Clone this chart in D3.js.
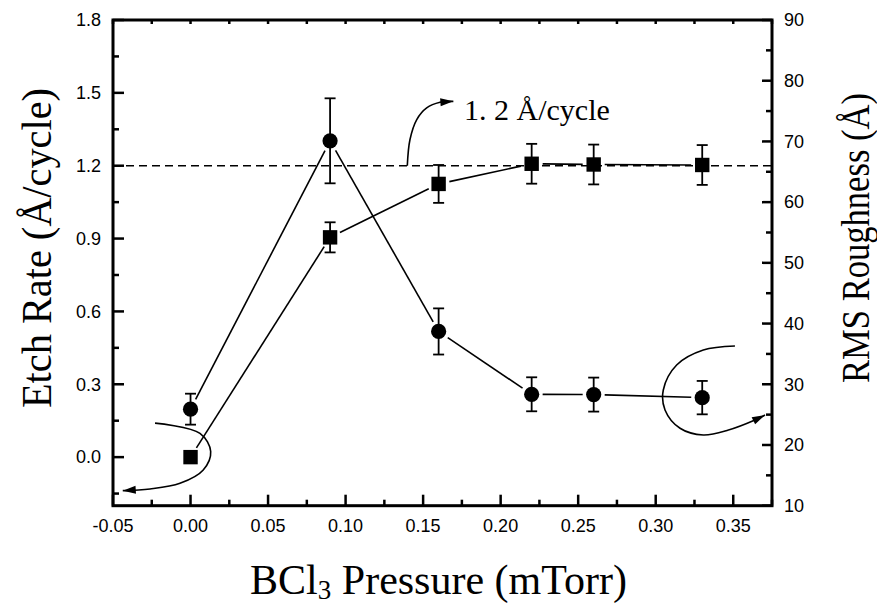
<!DOCTYPE html>
<html>
<head>
<meta charset="utf-8">
<script src="https://cdn.jsdelivr.net/npm/d3@7"></script>
<style>
  html, body { margin: 0; padding: 0; background: #fff; }
  svg { display: block; }
</style>
</head>
<body>
<svg id="chart" width="877" height="608"></svg>
<script>
// BCl3 pressure (mTorr)
const pressure = [0.00, 0.09, 0.16, 0.22, 0.26, 0.33];
// Etch rate (Å/cycle), left axis, square symbols
const etchRate = [0.000, 0.905, 1.125, 1.208, 1.205, 1.203];
const etchErr  = [0.000, 0.062, 0.078, 0.082, 0.082, 0.082];
// RMS roughness (Å), right axis, circle symbols
const roughness = [25.9, 70.1, 38.7, 28.35, 28.3, 27.8];
const roughErr  = [2.55, 7.0, 3.8, 2.8, 2.8, 2.75];

// Axis ticks
const xMajor = [-0.05, 0.00, 0.05, 0.10, 0.15, 0.20, 0.25, 0.30, 0.35];
const xMinor = [-0.025, 0.025, 0.075, 0.125, 0.175, 0.225, 0.275, 0.325, 0.375];
const yLeftMajor = [0.0, 0.3, 0.6, 0.9, 1.2, 1.5, 1.8];
const yLeftMinor = [-0.15, 0.15, 0.45, 0.75, 1.05, 1.35, 1.65];
const yRightMajor = [10, 20, 30, 40, 50, 60, 70, 80, 90];
const yRightMinor = [15, 25, 35, 45, 55, 65, 75, 85];

// Reference level
const refRate = 1.2;
const refLabel = "1. 2 Å/cycle";

// Annotation curves (data coordinates)
const refArrow = [[0.1398, 1.20], [0.1415, 1.307], [0.1459, 1.390], [0.1523, 1.438], [0.1609, 1.461], [0.1695, 1.465]];
const leftArrow = [[-0.0229, 0.140], [0.0061, 0.098], [0.0130, 0.023], [0.0082, -0.053], [-0.0068, -0.108], [-0.0261, -0.131], [-0.0437, -0.138]];
const rightArrow = [[0.3511, 36.31], [0.3307, 35.65], [0.3135, 33.18], [0.3049, 29.06], [0.3060, 25.77], [0.3157, 22.75], [0.3307, 21.65], [0.3469, 22.47], [0.3640, 24.12], [0.3705, 24.94]];

const svg = d3.select("#chart");
const L = 113, R = 772, T = 20, B = 505.7;

const x = d3.scaleLinear().domain([-0.05, 0.375]).range([L, R]);
const yL = d3.scaleLinear().domain([-0.2, 1.8]).range([B, T]);
const yR = d3.scaleLinear().domain([10, 90]).range([B, T]);

const sansFont = "'Liberation Sans', Arial, sans-serif";
const serifFont = "'Liberation Serif', 'Times New Roman', serif";

// Dashed reference line
svg.append("line")
  .attr("x1", L).attr("x2", R)
  .attr("y1", yL(refRate)).attr("y2", yL(refRate))
  .attr("stroke", "#000").attr("stroke-width", 1.6)
  .attr("stroke-dasharray", "8,5");

// Connecting lines with gaps around the symbols
function gappedSegments(pts, gap) {
  const segs = [];
  for (let i = 0; i < pts.length - 1; i++) {
    const [x1, y1] = pts[i], [x2, y2] = pts[i + 1];
    const dx = x2 - x1, dy = y2 - y1, len = Math.hypot(dx, dy);
    if (len <= 2 * gap) continue;
    const ux = dx / len, uy = dy / len;
    segs.push([x1 + ux * gap, y1 + uy * gap, x2 - ux * gap, y2 - uy * gap]);
  }
  return segs;
}

const etchPts = pressure.map((p, i) => [x(p), yL(etchRate[i])]);
const roughPts = pressure.map((p, i) => [x(p), yR(roughness[i])]);

[etchPts, roughPts].forEach(pts => {
  svg.append("g").selectAll("line")
    .data(gappedSegments(pts, 11))
    .join("line")
    .attr("x1", d => d[0]).attr("y1", d => d[1])
    .attr("x2", d => d[2]).attr("y2", d => d[3])
    .attr("stroke", "#000").attr("stroke-width", 1.6);
});

// Error bars
function errorBars(vals, errs, scale) {
  const g = svg.append("g").attr("stroke", "#000").attr("stroke-width", 1.8);
  pressure.forEach((p, i) => {
    if (!errs[i]) return;
    const cx = x(p), top = scale(vals[i] + errs[i]), bot = scale(vals[i] - errs[i]);
    g.append("line").attr("x1", cx).attr("x2", cx).attr("y1", top).attr("y2", bot);
    g.append("line").attr("x1", cx - 5.5).attr("x2", cx + 5.5).attr("y1", top).attr("y2", top);
    g.append("line").attr("x1", cx - 5.5).attr("x2", cx + 5.5).attr("y1", bot).attr("y2", bot);
  });
}
errorBars(etchRate, etchErr, yL);
errorBars(roughness, roughErr, yR);

// Symbols
svg.append("g").selectAll("rect")
  .data(pressure)
  .join("rect")
  .attr("x", (d) => x(d) - 7.2)
  .attr("y", (d, i) => yL(etchRate[i]) - 7.2)
  .attr("width", 14.4).attr("height", 14.4)
  .attr("fill", "#000");

svg.append("g").selectAll("circle")
  .data(pressure)
  .join("circle")
  .attr("cx", d => x(d))
  .attr("cy", (d, i) => yR(roughness[i]))
  .attr("r", 7.6)
  .attr("fill", "#000");

// Annotation arrows
function arrowCurve(pts, sx, sy) {
  const px = pts.map(p => [sx(p[0]), sy(p[1])]);
  svg.append("path")
    .attr("d", d3.line().curve(d3.curveCatmullRom)(px))
    .attr("fill", "none").attr("stroke", "#000").attr("stroke-width", 1.6);
  const [ax, ay] = px[px.length - 1], [bx, by] = px[px.length - 2];
  const ang = Math.atan2(ay - by, ax - bx);
  const len = 13, hw = 4;
  const bxp = ax - len * Math.cos(ang), byp = ay - len * Math.sin(ang);
  const nx = -Math.sin(ang) * hw, ny = Math.cos(ang) * hw;
  svg.append("path")
    .attr("d", `M${ax},${ay}L${bxp + nx},${byp + ny}L${bxp - nx},${byp - ny}Z`)
    .attr("fill", "#000");
}
arrowCurve(refArrow, x, yL);
arrowCurve(leftArrow, x, yL);
arrowCurve(rightArrow, x, yR);

svg.append("text")
  .attr("x", x(0.1764)).attr("y", yL(1.387))
  .attr("font-family", serifFont).attr("font-size", 30)
  .text(refLabel);

// Frame
svg.append("rect")
  .attr("x", L).attr("y", T).attr("width", R - L).attr("height", B - T)
  .attr("fill", "none").attr("stroke", "#000").attr("stroke-width", 3);

// Ticks (pointing inward)
const tg = svg.append("g").attr("stroke", "#000").attr("stroke-width", 2.5);
xMajor.forEach(v => tg.append("line").attr("x1", x(v)).attr("x2", x(v)).attr("y1", B).attr("y2", B - 11));
xMinor.forEach(v => tg.append("line").attr("x1", x(v)).attr("x2", x(v)).attr("y1", B).attr("y2", B - 6));
xMajor.concat(xMinor).forEach(v => tg.append("line").attr("x1", x(v)).attr("x2", x(v)).attr("y1", T).attr("y2", T + 4));
yLeftMajor.forEach(v => tg.append("line").attr("x1", L).attr("x2", L + 11).attr("y1", yL(v)).attr("y2", yL(v)));
yLeftMinor.forEach(v => tg.append("line").attr("x1", L).attr("x2", L + 6).attr("y1", yL(v)).attr("y2", yL(v)));
yRightMajor.forEach(v => tg.append("line").attr("x1", R).attr("x2", R - 10).attr("y1", yR(v)).attr("y2", yR(v)));
yRightMinor.forEach(v => tg.append("line").attr("x1", R).attr("x2", R - 6).attr("y1", yR(v)).attr("y2", yR(v)));

// Tick labels
const fx = d3.format(".2f"), fy = d3.format(".1f");
svg.append("g").selectAll("text").data(xMajor).join("text")
  .attr("x", d => x(d)).attr("y", 532)
  .attr("text-anchor", "middle")
  .attr("font-family", sansFont).attr("font-size", 18)
  .text(d => fx(d).replace("−", "-"));
svg.append("g").selectAll("text").data(yLeftMajor).join("text")
  .attr("x", 101).attr("y", d => yL(d)).attr("dy", "0.35em")
  .attr("text-anchor", "end")
  .attr("font-family", sansFont).attr("font-size", 18)
  .text(d => fy(d));
svg.append("g").selectAll("text").data(yRightMajor).join("text")
  .attr("x", 784).attr("y", d => yR(d)).attr("dy", "0.35em")
  .attr("text-anchor", "start")
  .attr("font-family", sansFont).attr("font-size", 18)
  .text(d => d);

// Axis titles
const xt = svg.append("text")
  .attr("x", 438.5).attr("y", 594)
  .attr("text-anchor", "middle")
  .attr("font-family", serifFont).attr("font-size", 42);
xt.append("tspan").text("BCl");
xt.append("tspan").attr("font-size", 27).attr("dy", 5).text("3");
xt.append("tspan").attr("dy", -5).text(" Pressure (mTorr)");

svg.append("text")
  .attr("transform", "translate(51,248) rotate(-90)")
  .attr("text-anchor", "middle")
  .attr("font-family", serifFont).attr("font-size", 42)
  .attr("textLength", 320).attr("lengthAdjust", "spacingAndGlyphs")
  .text("Etch Rate (Å/cycle)");

svg.append("text")
  .attr("transform", "translate(869,238) rotate(-90)")
  .attr("text-anchor", "middle")
  .attr("font-family", serifFont).attr("font-size", 40)
  .attr("textLength", 290).attr("lengthAdjust", "spacingAndGlyphs")
  .text("RMS Roughness (Å)");
</script>
</body>
</html>
